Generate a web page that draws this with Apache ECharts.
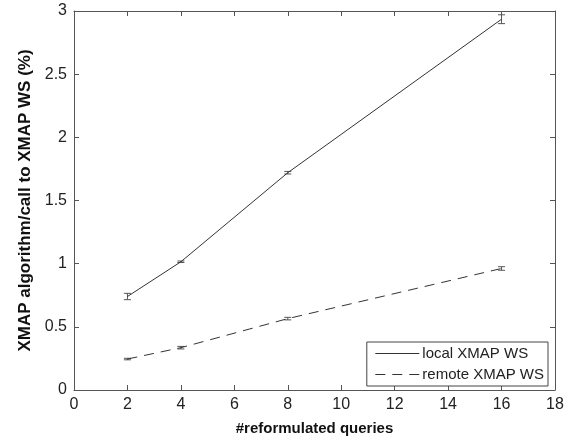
<!DOCTYPE html>
<html>
<head>
<meta charset="utf-8">
<script src="https://cdn.jsdelivr.net/npm/echarts@6/dist/echarts.min.js"></script>
<style>html,body{margin:0;padding:0;background:#fff;}#c{width:576px;height:441px;}</style>
</head>
<body>
<div id="c"></div>
<script>
var queries = [2, 4, 8, 16];
var localWS = [0.74, 1.015, 1.72, 2.935];
var localErr = [0.025, 0.006, 0.01, 0.035];
var remoteWS = [0.245, 0.335, 0.565, 0.962];
var remoteErr = [0.006, 0.01, 0.01, 0.014];
var xTicks = [0, 2, 4, 6, 8, 10, 12, 14, 16, 18];
var yTicks = [0, 0.5, 1, 1.5, 2, 2.5, 3];

function pairs(ys) { return queries.map(function (x, i) { return [x, ys[i]]; }); }
function errData(ys, es) { return queries.map(function (x, i) { return [x, ys[i] - es[i], ys[i] + es[i]]; }); }

function renderErr(params, api) {
  var x = api.value(0);
  var lo = api.coord([x, api.value(1)]);
  var hi = api.coord([x, api.value(2)]);
  var w = 3.5;
  var st = { stroke: '#555', lineWidth: 1 };
  return {
    type: 'group',
    children: [
      { type: 'line', shape: { x1: lo[0], y1: lo[1], x2: hi[0], y2: hi[1] }, style: st },
      { type: 'line', shape: { x1: lo[0] - w, y1: lo[1], x2: lo[0] + w, y2: lo[1] }, style: st },
      { type: 'line', shape: { x1: hi[0] - w, y1: hi[1], x2: hi[0] + w, y2: hi[1] }, style: st }
    ]
  };
}

var font = 'Liberation Sans, Arial, Helvetica, sans-serif';
var axisLine = { show: true, onZero: false, lineStyle: { color: '#555', width: 1 } };
var tick = { show: true, inside: true, length: 5, lineStyle: { color: '#555' } };

var chart = echarts.init(document.getElementById('c'));
chart.setOption({
  animation: false,
  backgroundColor: '#fff',
  textStyle: { fontFamily: font },
  grid: { left: 74, right: 21, top: 11, bottom: 51 },
  legend: {
    orient: 'vertical',
    right: 28, top: 342,
    itemWidth: 44, itemHeight: 10, itemGap: 6,
    padding: [4, 4, 4, 8],
    borderColor: '#444', borderWidth: 1, borderRadius: 0, backgroundColor: '#fff',
    itemStyle: { opacity: 0 },
    lineStyle: { width: 1, color: '#333' },
    textStyle: { fontSize: 15, color: '#222', fontFamily: font, padding: [0, 0, 0, -2] },
    data: ['local XMAP WS', 'remote XMAP WS']
  },
  xAxis: [{
    type: 'value', min: 0, max: 18, interval: 2,
    name: '#reformulated queries', nameLocation: 'middle', nameGap: 31,
    nameTextStyle: { fontSize: 15, fontWeight: 'bold', color: '#111', fontFamily: font },
    axisLine: axisLine, axisTick: tick,
    axisLabel: { fontSize: 16, color: '#222', margin: 7, fontFamily: font,
      formatter: function (v) { return xTicks.indexOf(v) >= 0 ? String(v) : ''; } },
    splitLine: { show: false }
  }, {
    type: 'value', min: 0, max: 18, interval: 2, position: 'top',
    axisLine: axisLine, axisTick: tick, axisLabel: { show: false }, splitLine: { show: false }
  }],
  yAxis: [{
    type: 'value', min: 0, max: 3, interval: 0.5,
    name: 'XMAP algorithm/call to XMAP WS (%)', nameLocation: 'middle', nameGap: 38,
    nameTextStyle: { fontSize: 17, fontWeight: 'bold', color: '#111', fontFamily: font },
    axisLine: axisLine, axisTick: tick,
    axisLabel: { fontSize: 16, color: '#222', margin: 7, fontFamily: font,
      formatter: function (v) { return yTicks.indexOf(v) >= 0 ? String(v) : ''; } },
    splitLine: { show: false }
  }, {
    type: 'value', min: 0, max: 3, interval: 0.5, position: 'right',
    axisLine: axisLine, axisTick: tick, axisLabel: { show: false }, splitLine: { show: false }
  }],
  series: [{
    name: 'local XMAP WS', type: 'line', data: pairs(localWS),
    symbol: 'none', color: '#333',
    lineStyle: { color: '#333', width: 1, type: 'solid' }
  }, {
    name: 'remote XMAP WS', type: 'line', data: pairs(remoteWS),
    symbol: 'none', color: '#333',
    lineStyle: { color: '#333', width: 1, type: [10, 7] }
  }, {
    type: 'custom', renderItem: renderErr, data: errData(localWS, localErr),
    encode: { x: 0, y: [1, 2] }, z: 3
  }, {
    type: 'custom', renderItem: renderErr, data: errData(remoteWS, remoteErr),
    encode: { x: 0, y: [1, 2] }, z: 3
  }]
});
</script>
</body>
</html>
